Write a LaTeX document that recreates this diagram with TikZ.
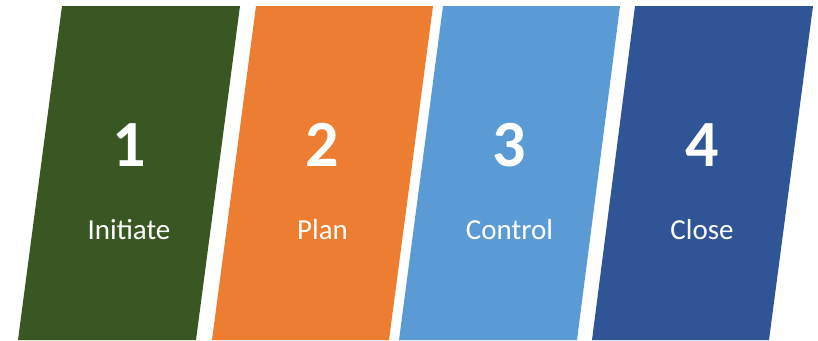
\documentclass[tikz,border=0pt]{standalone}
\usepackage{fontspec}
\setmainfont{Carlito}
\definecolor{phaseGreen}{HTML}{385723}
\definecolor{phaseOrange}{HTML}{ED7D31}
\definecolor{phaseSky}{HTML}{5B9BD5}
\definecolor{phaseNavy}{HTML}{2F5597}
\begin{document}
\begin{tikzpicture}[x=1pt,y=-1pt,
  numtext/.style={text=white, font=\fontsize{66}{66}\selectfont\bfseries, anchor=base, inner sep=0pt},
  labtext/.style={text=white, font=\fontsize{29}{29}\selectfont, anchor=base, inner sep=0pt}]
\useasboundingbox (0,0) rectangle (818,340);
% slanted phase panels
\fill[phaseGreen]  (62,6)  -- (240,6) -- (196,340) -- (18,340)  -- cycle;
\fill[phaseOrange] (256,6) -- (433,6) -- (389,340) -- (212,340) -- cycle;
\fill[phaseSky]    (443,6) -- (620,6) -- (577,340) -- (399,340) -- cycle;
\fill[phaseNavy]   (635,6) -- (813,6) -- (769,340) -- (592,340) -- cycle;
% numbers and phase names
\node[numtext] (n1) at (129,166) {1};
\node[labtext] (l1) at (129,239) {Initiate};
\node[numtext] (n2) at (322.5,166) {2};
\node[labtext] (l2) at (322.5,239) {Plan};
\node[numtext] (n3) at (509.5,166) {3};
\node[labtext] (l3) at (509.5,239) {Control};
\node[numtext] (n4) at (702,166) {4};
\node[labtext] (l4) at (702,239) {Close};
\end{tikzpicture}
\end{document}
